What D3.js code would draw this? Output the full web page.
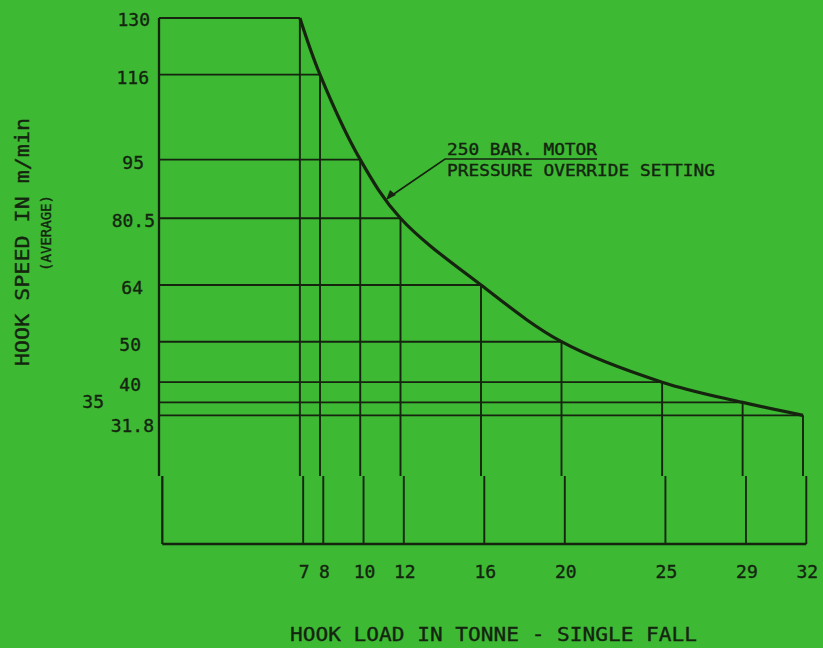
<!DOCTYPE html>
<html>
<head>
<meta charset="utf-8">
<script src="https://cdn.jsdelivr.net/npm/d3@7"></script>
<style>
  body { margin: 0; background: #3db934; }
  svg text { font-family: "DejaVu Sans Mono", monospace; fill: #14240f; stroke: #14240f; stroke-width: 0.35; }
</style>
</head>
<body>
<div class="chart"></div>
<script>
// hook load (tonne) and the matching hook speed (m/min)
var loads = [7, 8, 10, 12, 16, 20, 25, 29, 32];
var speeds = [130, 116, 95, 80.5, 64, 50, 40, 35, 31.8];
var loadLabels = ["7", "8", "10", "12", "16", "20", "25", "29", "32"];
var speedLabels = ["130", "116", "95", "80.5", "64", "50", "40", "35", "31.8"];

var svgWidth = 823;
var svgHeight = 648;
var ink = "#15230f";

var svg = d3.select(".chart")
  .append("svg")
  .attr("width", svgWidth)
  .attr("height", svgHeight);

svg.append("rect")
  .attr("width", svgWidth)
  .attr("height", svgHeight)
  .attr("fill", "#3db934");

// the drawing is a scan; its lower strip is shifted a little to the right
var xScale = d3.scaleLinear().domain([0, 32]).range([159, 803]);
var shift = 3.3;
var breakY = 476;
var yScale = d3.scaleLinear().domain([0, 130]).range([544, 18]);

var data = loads.map((d, i) => ({ load: d, speed: speeds[i] }));

var grid = svg.append("g")
  .attr("stroke", ink)
  .attr("stroke-width", 1.9)
  .attr("fill", "none");

// left axis, upper and lower part
grid.append("line")
  .attr("x1", xScale(0)).attr("x2", xScale(0))
  .attr("y1", yScale(130)).attr("y2", breakY)
  .attr("stroke-width", 2.3);
grid.append("line")
  .attr("x1", xScale(0) + shift).attr("x2", xScale(0) + shift)
  .attr("y1", breakY).attr("y2", yScale(0))
  .attr("stroke-width", 2.3);

// bottom line
grid.append("line")
  .attr("x1", xScale(0) + shift).attr("x2", xScale(32) + shift)
  .attr("y1", yScale(0)).attr("y2", yScale(0))
  .attr("stroke-width", 2.5);

// horizontal lines from the axis to the curve
grid.selectAll(".hline")
  .data(data)
  .enter().append("line")
  .attr("class", "hline")
  .attr("x1", xScale(0))
  .attr("x2", d => xScale(d.load))
  .attr("y1", d => yScale(d.speed))
  .attr("y2", d => yScale(d.speed));

// vertical lines from the curve down to the bottom
grid.selectAll(".vup")
  .data(data)
  .enter().append("line")
  .attr("class", "vup")
  .attr("x1", d => xScale(d.load))
  .attr("x2", d => xScale(d.load))
  .attr("y1", d => yScale(d.speed))
  .attr("y2", breakY);

grid.selectAll(".vlow")
  .data(data)
  .enter().append("line")
  .attr("class", "vlow")
  .attr("x1", d => xScale(d.load) + shift)
  .attr("x2", d => xScale(d.load) + shift)
  .attr("y1", breakY)
  .attr("y2", yScale(0));

// the curve
var line = d3.line()
  .x(d => xScale(d.load))
  .y(d => yScale(d.speed))
  .curve(d3.curveCatmullRom.alpha(0.5));

svg.append("path")
  .datum(data)
  .attr("d", line)
  .attr("fill", "none")
  .attr("stroke", ink)
  .attr("stroke-width", 3.2);

// y tick labels (hand placed on the original)
var yLabelX = { "130": 150, "116": 149, "95": 144, "80.5": 155, "64": 143, "50": 141, "40": 141, "35": 104, "31.8": 154 };
var yLabelDy = { "130": 8, "116": 9, "95": 9, "80.5": 9, "64": 9, "50": 9, "40": 9, "35": 6, "31.8": 17 };
svg.selectAll(".ylab")
  .data(data)
  .enter().append("text")
  .attr("class", "ylab")
  .attr("x", (d, i) => yLabelX[speedLabels[i]])
  .attr("y", (d, i) => yScale(d.speed) + yLabelDy[speedLabels[i]])
  .attr("text-anchor", "end")
  .attr("font-size", 18)
  .text((d, i) => speedLabels[i]);

// x tick labels
svg.selectAll(".xlab")
  .data(data)
  .enter().append("text")
  .attr("class", "xlab")
  .attr("x", d => xScale(d.load) + shift + 1)
  .attr("y", 578)
  .attr("text-anchor", "middle")
  .attr("font-size", 18)
  .text((d, i) => loadLabels[i]);

// axis titles
svg.append("text")
  .attr("x", 290)
  .attr("y", 641)
  .attr("font-size", 19)
  .attr("textLength", 407)
  .attr("lengthAdjust", "spacingAndGlyphs")
  .text("HOOK LOAD IN TONNE - SINGLE FALL");

svg.append("text")
  .attr("transform", "translate(29, 366) rotate(-90)")
  .attr("font-size", 19)
  .attr("textLength", 248)
  .attr("lengthAdjust", "spacingAndGlyphs")
  .text("HOOK SPEED IN m/min");

svg.append("text")
  .attr("transform", "translate(51, 271) rotate(-90)")
  .attr("font-size", 14)
  .attr("textLength", 76)
  .attr("lengthAdjust", "spacingAndGlyphs")
  .text("(AVERAGE)");

// annotation with leader to the curve
var note = svg.append("g");
note.append("text")
  .attr("x", 447)
  .attr("y", 155)
  .attr("font-size", 15)
  .attr("textLength", 150)
  .attr("lengthAdjust", "spacingAndGlyphs")
  .text("250 BAR. MOTOR");
note.append("text")
  .attr("x", 447)
  .attr("y", 176)
  .attr("font-size", 15)
  .attr("textLength", 268)
  .attr("lengthAdjust", "spacingAndGlyphs")
  .text("PRESSURE OVERRIDE SETTING");
note.append("polyline")
  .attr("points", "597,159 445,159 388,198")
  .attr("fill", "none")
  .attr("stroke", ink)
  .attr("stroke-width", 1.6);
note.append("path")
  .attr("d", "M386,200 L390,190 L396,195 Z")
  .attr("fill", ink);
</script>
</body>
</html>
